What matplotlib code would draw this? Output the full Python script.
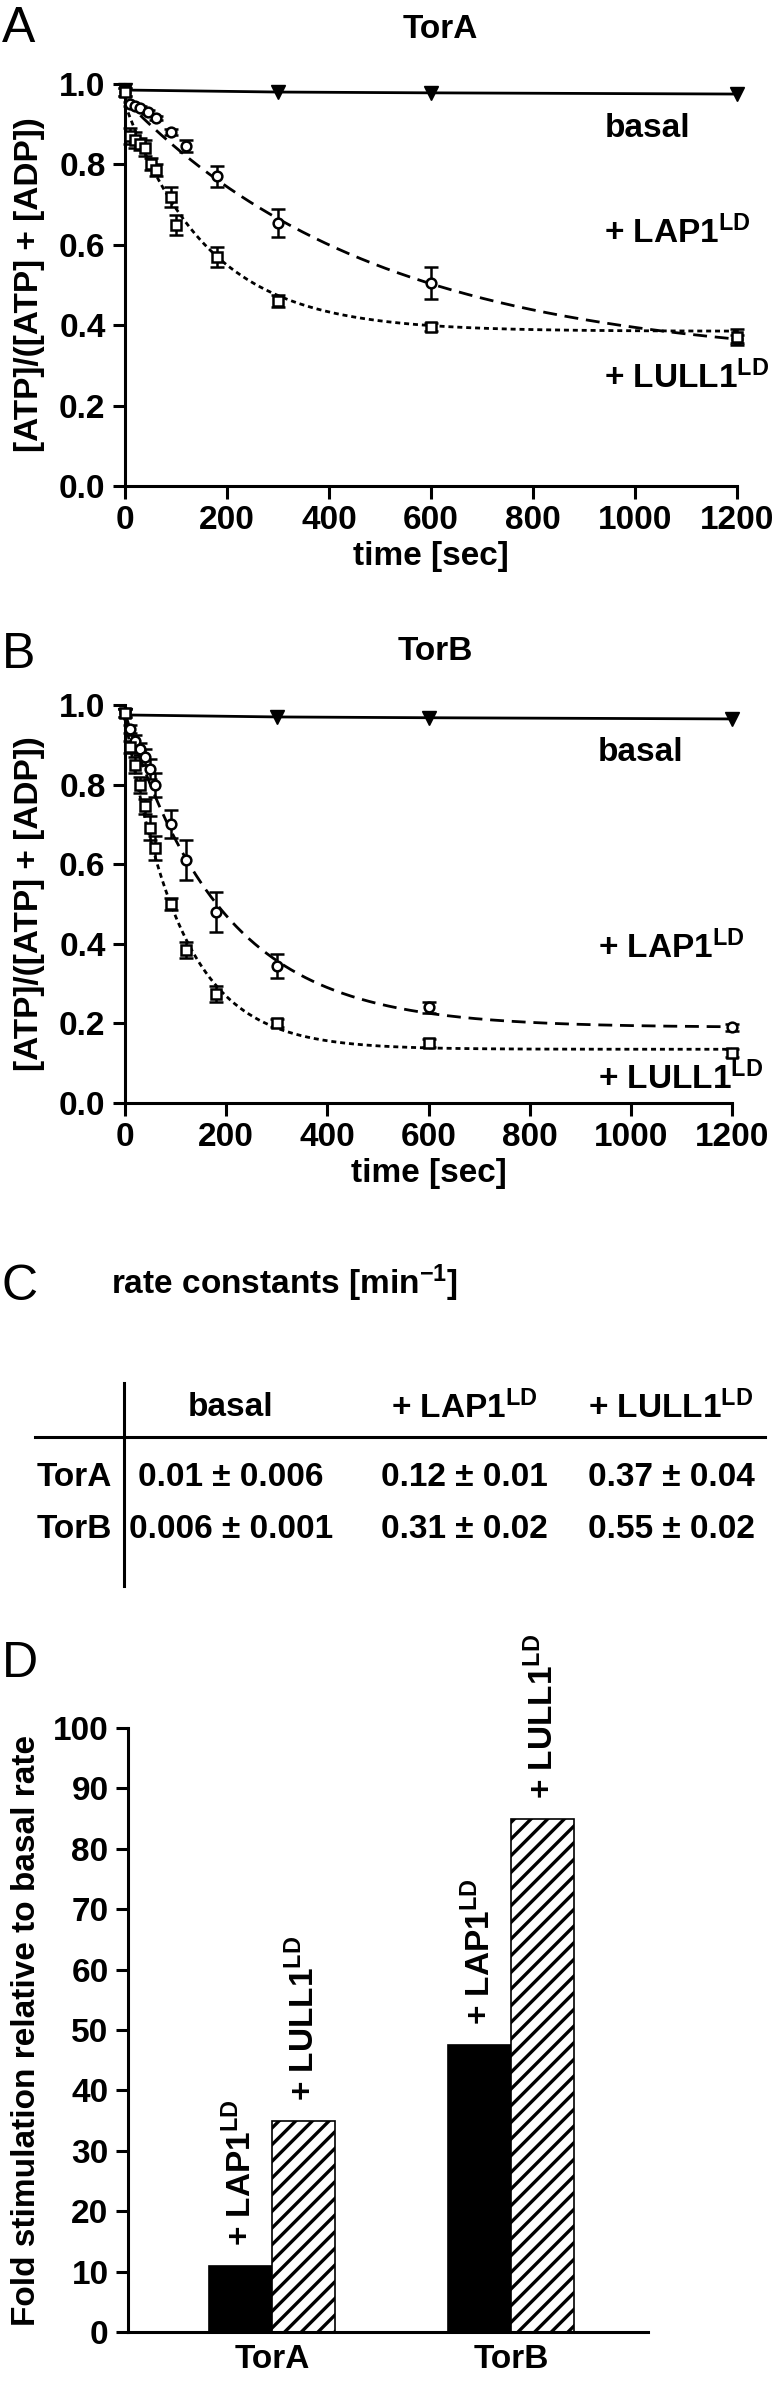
import numpy as np
import matplotlib
matplotlib.use("Agg")
import matplotlib.pyplot as plt
from matplotlib.lines import Line2D

plt.rcParams['font.family'] = ['Liberation Sans', 'DejaVu Sans']
plt.rcParams['font.weight'] = 'bold'
plt.rcParams['mathtext.fontset'] = 'custom'
plt.rcParams['mathtext.rm'] = 'Liberation Sans:bold'
plt.rcParams['mathtext.bf'] = 'Liberation Sans:bold'
plt.rcParams['mathtext.it'] = 'Liberation Sans:bold'
plt.rcParams['mathtext.default'] = 'rm'
plt.rcParams['hatch.linewidth'] = 2.4

# ---------------- data ----------------
basal_t = [0, 300, 600, 1200]
torA_basal = [0.985, 0.98, 0.978, 0.975]
torB_basal = [0.975, 0.97, 0.968, 0.965]

torA_lap1_t = [0, 10, 20, 30, 45, 60, 90, 120, 180, 300, 600, 1200]
torA_lap1 = [0.98, 0.95, 0.945, 0.94, 0.93, 0.915, 0.88, 0.845, 0.77, 0.655, 0.505, 0.365]
torA_lap1_err = [0.01, 0.005, 0.005, 0.005, 0.005, 0.005, 0.008, 0.015, 0.025, 0.035, 0.04, 0.01]

torA_lull1_t = [0, 10, 20, 30, 40, 50, 60, 90, 100, 180, 300, 600, 1200]
torA_lull1 = [0.98, 0.87, 0.86, 0.85, 0.84, 0.80, 0.785, 0.72, 0.65, 0.57, 0.46, 0.395, 0.37]
torA_lull1_err = [0.01, 0.02, 0.02, 0.015, 0.02, 0.015, 0.015, 0.025, 0.025, 0.025, 0.015, 0.01, 0.02]

torB_t = [0, 10, 20, 30, 40, 50, 60, 90, 120, 180, 300, 600, 1200]
torB_lap1 = [0.98, 0.94, 0.91, 0.89, 0.87, 0.84, 0.80, 0.70, 0.61, 0.48, 0.345, 0.24, 0.19]
torB_lap1_err = [0.01, 0.01, 0.015, 0.015, 0.02, 0.025, 0.03, 0.035, 0.05, 0.05, 0.03, 0.015, 0.008]
torB_lull1 = [0.98, 0.895, 0.85, 0.80, 0.745, 0.69, 0.64, 0.50, 0.385, 0.275, 0.20, 0.15, 0.125]
torB_lull1_err = [0.01, 0.015, 0.02, 0.02, 0.02, 0.03, 0.03, 0.015, 0.02, 0.02, 0.01, 0.01, 0.01]

# rate constants [min^-1] (table C) and their errors
conditions = ['basal', '+ LAP1$^{LD}$', '+ LULL1$^{LD}$']
rows = ['TorA', 'TorB']
torA_k = [0.01, 0.12, 0.37]
torB_k = [0.006, 0.31, 0.55]
torA_k_txt = ['0.01', '0.12', '0.37']
torB_k_txt = ['0.006', '0.31', '0.55']
torA_k_err = ['0.006', '0.01', '0.04']
torB_k_err = ['0.001', '0.02', '0.02']

# single-exponential fit parameters (start value, plateau) for the stimulated curves
torA_fit_y0 = [0.96, 0.95]
torA_fit_plateau = [0.306, 0.385]
torB_fit_y0 = [0.98, 0.97]
torB_fit_plateau = [0.19, 0.135]

# panel D: fold stimulation
groups = ['TorA', 'TorB']
fold_lap1 = [11, 47.5]
fold_lull1 = [35, 85]

# ---------------- figure ----------------
W, H = 782, 2381
fig = plt.figure(figsize=(W / 100, H / 100), dpi=100)


def fx(x):
    return x / W


def fy(y):
    return 1 - y / H


def axes_px(left, right, top, bottom):
    return fig.add_axes([fx(left), fy(bottom), (right - left) / W, (bottom - top) / H])


FS = 24
LW_AX = 2.2


def style_axes(ax):
    for s in ['top', 'right']:
        ax.spines[s].set_visible(False)
    for s in ['left', 'bottom']:
        ax.spines[s].set_linewidth(LW_AX)
    ax.tick_params(axis='both', direction='out', length=9, width=LW_AX,
                   labelsize=FS, pad=5)
    for lab in ax.get_xticklabels() + ax.get_yticklabels():
        lab.set_fontweight('bold')


def kinetic_panel(ax, lap1_t, lap1, lap1_err, lull1_t, lull1, lull1_err,
                  basal, k, fit_y0, fit_plat):
    tt = np.linspace(0, 1200, 600)
    # basal line
    ax.plot(basal_t, basal, color='black', lw=2, clip_on=False, zorder=3)
    ax.plot(basal_t, basal, 'v', color='black', ms=10, clip_on=False, zorder=4)
    # fitted single exponentials, using the rate constants of table C
    ax.plot(tt, fit_plat[0] + (fit_y0[0] - fit_plat[0]) * np.exp(-k[1] * tt / 60),
            color='black', lw=2, ls=(0, (5, 2.8)), zorder=2)
    ax.plot(tt, fit_plat[1] + (fit_y0[1] - fit_plat[1]) * np.exp(-k[2] * tt / 60),
            color='black', lw=2, ls=(0, (1.8, 1.4)), zorder=2)
    # data
    ax.errorbar(lap1_t, lap1, yerr=lap1_err, fmt='o', ms=7, mfc='white', mec='black',
                mew=1.8, ecolor='black', elinewidth=1.8, capsize=5, capthick=1.8,
                clip_on=False, zorder=5)
    ax.errorbar(lull1_t, lull1, yerr=lull1_err, fmt='s', ms=6.5, mfc='white', mec='black',
                mew=1.8, ecolor='black', elinewidth=1.8, capsize=5, capthick=1.8,
                clip_on=False, zorder=5)
    ax.set_xlim(0, 1200)
    ax.set_ylim(0, 1.0)
    ax.set_xticks(np.arange(0, 1201, 200))
    ax.set_yticks(np.arange(0, 1.01, 0.2))
    ax.set_yticklabels(['%.1f' % v for v in np.arange(0, 1.01, 0.2)])
    style_axes(ax)
    ax.set_xlabel('time [sec]', fontsize=FS, fontweight='bold', labelpad=3)


# Panel A
axA = axes_px(125, 737, 84, 486)
kinetic_panel(axA, torA_lap1_t, torA_lap1, torA_lap1_err, torA_lull1_t, torA_lull1,
              torA_lull1_err, torA_basal, torA_k, torA_fit_y0, torA_fit_plateau)
axA.text(940, 0.89, 'basal', fontsize=FS, fontweight='bold', va='center')
axA.text(940, 0.63, conditions[1], fontsize=FS, fontweight='bold', va='center')
axA.text(940, 0.27, conditions[2], fontsize=FS, fontweight='bold', va='center')
fig.text(fx(440), fy(30), 'TorA', fontsize=FS, fontweight='bold', ha='center', va='center')
fig.text(fx(30), fy(285), '[ATP]/([ATP] + [ADP])', fontsize=FS, fontweight='bold',
         rotation=90, ha='center', va='center')
fig.text(fx(2), fy(29), 'A', fontsize=36, fontweight='normal', ha='left', va='center')

# Panel B
axB = axes_px(125, 732, 705, 1103)
kinetic_panel(axB, torB_t, torB_lap1, torB_lap1_err, torB_t, torB_lull1,
              torB_lull1_err, torB_basal, torB_k, torB_fit_y0, torB_fit_plateau)
axB.text(935, 0.88, 'basal', fontsize=FS, fontweight='bold', va='center')
axB.text(935, 0.39, conditions[1], fontsize=FS, fontweight='bold', va='center')
axB.text(935, 0.06, conditions[2], fontsize=FS, fontweight='bold', va='center')
fig.text(fx(435), fy(652), 'TorB', fontsize=FS, fontweight='bold', ha='center', va='center')
fig.text(fx(30), fy(904), '[ATP]/([ATP] + [ADP])', fontsize=FS, fontweight='bold',
         rotation=90, ha='center', va='center')
fig.text(fx(2), fy(655), 'B', fontsize=36, fontweight='normal', ha='left', va='center')

# Panel C: table
fig.text(fx(2), fy(1287), 'C', fontsize=36, fontweight='normal', ha='left', va='center')
fig.text(fx(111), fy(1283), 'rate constants [min$^{-1}$]', fontsize=FS,
         fontweight='bold', ha='left', va='center')
col_x = [231, 464, 671]
row_y = [1478, 1529]
for cx, name in zip(col_x, conditions):
    fig.text(fx(cx), fy(1408), name, fontsize=FS, fontweight='bold', ha='center', va='center')
for ry, rname, vals, errs in zip(row_y, rows, [torA_k_txt, torB_k_txt], [torA_k_err, torB_k_err]):
    fig.text(fx(112), fy(ry), rname, fontsize=FS, fontweight='bold', ha='right', va='center')
    for cx, v, e in zip(col_x, vals, errs):
        fig.text(fx(cx), fy(ry), '%s \u00b1 %s' % (v, e), fontsize=FS, fontweight='bold',
                 ha='center', va='center')
fig.add_artist(Line2D([fx(124), fx(124)], [fy(1383), fy(1586)], color='black', lw=2.2))
fig.add_artist(Line2D([fx(35), fx(765)], [fy(1437), fy(1437)], color='black', lw=2.2))

# Panel D: bars
fig.text(fx(2), fy(1664), 'D', fontsize=36, fontweight='normal', ha='left', va='center')
axD = axes_px(128, 648, 1728, 2332)
xg = np.arange(len(groups))
bw = 0.264
axD.bar(xg - bw / 2, fold_lap1, width=bw, color='black', edgecolor='black', lw=1.2)
axD.bar(xg + bw / 2, fold_lull1, width=bw, color='white', edgecolor='black', lw=1.2,
        hatch='//')
for xi, v in zip(xg - bw / 2, fold_lap1):
    axD.text(xi, v + 3.3, conditions[1], rotation=90, ha='center', va='bottom',
             fontsize=FS, fontweight='bold')
for xi, v in zip(xg + bw / 2, fold_lull1):
    axD.text(xi, v + 3.3, conditions[2], rotation=90, ha='center', va='bottom',
             fontsize=FS, fontweight='bold')
axD.set_xlim(-0.603, 1.573)
axD.set_ylim(0, 100)
axD.set_yticks(np.arange(0, 101, 10))
axD.set_xticks(xg)
axD.set_xticklabels(groups)
style_axes(axD)
axD.tick_params(axis='x', length=0, pad=9)
axD.set_ylabel('Fold stimulation relative to basal rate', fontsize=FS, fontweight='bold',
               labelpad=8)

fig.savefig('out.png', dpi=100)
